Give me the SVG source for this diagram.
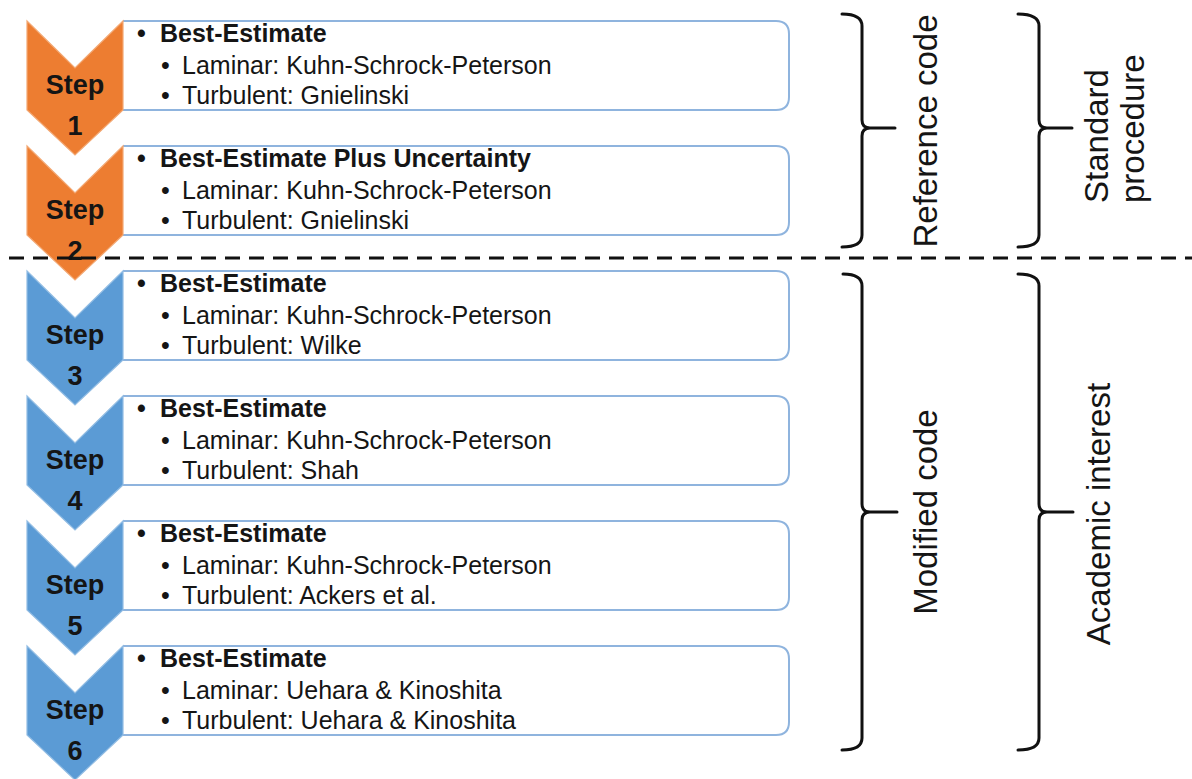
<svg xmlns="http://www.w3.org/2000/svg" width="1192" height="779" viewBox="0 0 1192 779">
<style>
  .bg{fill:#fff}
  .chev-o{fill:#ED7D31;stroke:#F3A873;stroke-width:1.2}
  .chev-b{fill:#5B9BD5;stroke:#92BDE4;stroke-width:1.2}
  .box{fill:#fff;stroke:#8FB4DE;stroke-width:2}
  .step{font-family:"Liberation Sans",Arial,sans-serif;font-weight:bold;font-size:27px;fill:#151515;text-anchor:middle}
  .t{font-family:"Liberation Sans",Arial,sans-serif;font-size:25px;fill:#151515}
  .tb{font-family:"Liberation Sans",Arial,sans-serif;font-size:25px;font-weight:bold;fill:#151515}
  .brace{fill:none;stroke:#111;stroke-width:3;stroke-linecap:round}
  .rot{font-family:"Liberation Sans",Arial,sans-serif;font-size:33px;fill:#151515}
  .sep{stroke:#111;stroke-width:3;stroke-dasharray:15 9;fill:none}
</style>
<defs>
  <path id="chev" d="M27,21 L75,68 L123,21 L123,110 L75,155 L27,110 Z"/>
  <path id="boxp" d="M123,21 H776 Q789,21 789,34 V97 Q789,110 776,110 H123"/>
</defs>
<rect class="bg" x="0" y="0" width="1192" height="779"/>

<g id="step1">
  <use href="#boxp" class="box"/>
  <use href="#chev" class="chev-o"/>
  <text class="step" x="75" y="94">Step</text>
  <text class="step" x="75" y="135">1</text>
  <text class="tb" x="137" y="42">•</text><text class="tb" x="160" y="42">Best-Estimate</text>
  <text class="t" x="161" y="74">•</text><text class="t" x="182" y="74">Laminar: Kuhn-Schrock-Peterson</text>
  <text class="t" x="161" y="104">•</text><text class="t" x="182" y="104">Turbulent: Gnielinski</text>
</g>

<g id="step2" transform="translate(0,125)">
  <use href="#boxp" class="box"/>
  <use href="#chev" class="chev-o"/>
  <text class="step" x="75" y="94">Step</text>
  <text class="step" x="75" y="135">2</text>
  <text class="tb" x="137" y="42">•</text><text class="tb" x="160" y="42">Best-Estimate Plus Uncertainty</text>
  <text class="t" x="161" y="74">•</text><text class="t" x="182" y="74">Laminar: Kuhn-Schrock-Peterson</text>
  <text class="t" x="161" y="104">•</text><text class="t" x="182" y="104">Turbulent: Gnielinski</text>
</g>

<g id="step3" transform="translate(0,250)">
  <use href="#boxp" class="box"/>
  <use href="#chev" class="chev-b"/>
  <text class="step" x="75" y="94">Step</text>
  <text class="step" x="75" y="135">3</text>
  <text class="tb" x="137" y="42">•</text><text class="tb" x="160" y="42">Best-Estimate</text>
  <text class="t" x="161" y="74">•</text><text class="t" x="182" y="74">Laminar: Kuhn-Schrock-Peterson</text>
  <text class="t" x="161" y="104">•</text><text class="t" x="182" y="104">Turbulent: Wilke</text>
</g>

<g id="step4" transform="translate(0,375)">
  <use href="#boxp" class="box"/>
  <use href="#chev" class="chev-b"/>
  <text class="step" x="75" y="94">Step</text>
  <text class="step" x="75" y="135">4</text>
  <text class="tb" x="137" y="42">•</text><text class="tb" x="160" y="42">Best-Estimate</text>
  <text class="t" x="161" y="74">•</text><text class="t" x="182" y="74">Laminar: Kuhn-Schrock-Peterson</text>
  <text class="t" x="161" y="104">•</text><text class="t" x="182" y="104">Turbulent: Shah</text>
</g>

<g id="step5" transform="translate(0,500)">
  <use href="#boxp" class="box"/>
  <use href="#chev" class="chev-b"/>
  <text class="step" x="75" y="94">Step</text>
  <text class="step" x="75" y="135">5</text>
  <text class="tb" x="137" y="42">•</text><text class="tb" x="160" y="42">Best-Estimate</text>
  <text class="t" x="161" y="74">•</text><text class="t" x="182" y="74">Laminar: Kuhn-Schrock-Peterson</text>
  <text class="t" x="161" y="104">•</text><text class="t" x="182" y="104">Turbulent: Ackers et al.</text>
</g>

<g id="step6" transform="translate(0,625)">
  <use href="#boxp" class="box"/>
  <use href="#chev" class="chev-b"/>
  <text class="step" x="75" y="94">Step</text>
  <text class="step" x="75" y="135">6</text>
  <text class="tb" x="137" y="42">•</text><text class="tb" x="160" y="42">Best-Estimate</text>
  <text class="t" x="161" y="74">•</text><text class="t" x="182" y="74">Laminar: Uehara &amp; Kinoshita</text>
  <text class="t" x="161" y="104">•</text><text class="t" x="182" y="104">Turbulent: Uehara &amp; Kinoshita</text>
</g>

<g id="connectors">
  <line class="sep" x1="9" y1="258" x2="1192" y2="258"/>
</g>

<g id="reference-code">
  <path class="brace" d="M842,14 Q862,14 862,26 L862,120 Q862,128 870,128 L895,128 M870,128 Q862,128 862,136 L862,235 Q862,247 842,247"/>
  <text class="rot" transform="translate(937,131) rotate(-90)" text-anchor="middle">Reference code</text>
</g>

<g id="standard-procedure">
  <path class="brace" d="M1018,14 Q1039,14 1039,26 L1039,120 Q1039,128 1047,128 L1072,128 M1047,128 Q1039,128 1039,136 L1039,235 Q1039,247 1018,247"/>
  <text class="rot" transform="translate(1108,203) rotate(-90)" text-anchor="start">Standard</text>
  <text class="rot" transform="translate(1144,203) rotate(-90)" text-anchor="start">procedure</text>
</g>

<g id="modified-code">
  <path class="brace" d="M843,274 Q862,274 862,286 L862,504 Q862,512 870,512 L897,512 M870,512 Q862,512 862,520 L862,738 Q862,750 842,750"/>
  <text class="rot" transform="translate(937,512) rotate(-90)" text-anchor="middle">Modified code</text>
</g>

<g id="academic-interest">
  <path class="brace" d="M1018,274 Q1039,274 1039,286 L1039,504 Q1039,512 1047,512 L1073,512 M1047,512 Q1039,512 1039,520 L1039,738 Q1039,750 1018,750"/>
  <text class="rot" transform="translate(1110,514) rotate(-90)" text-anchor="middle">Academic interest</text>
</g>
</svg>
